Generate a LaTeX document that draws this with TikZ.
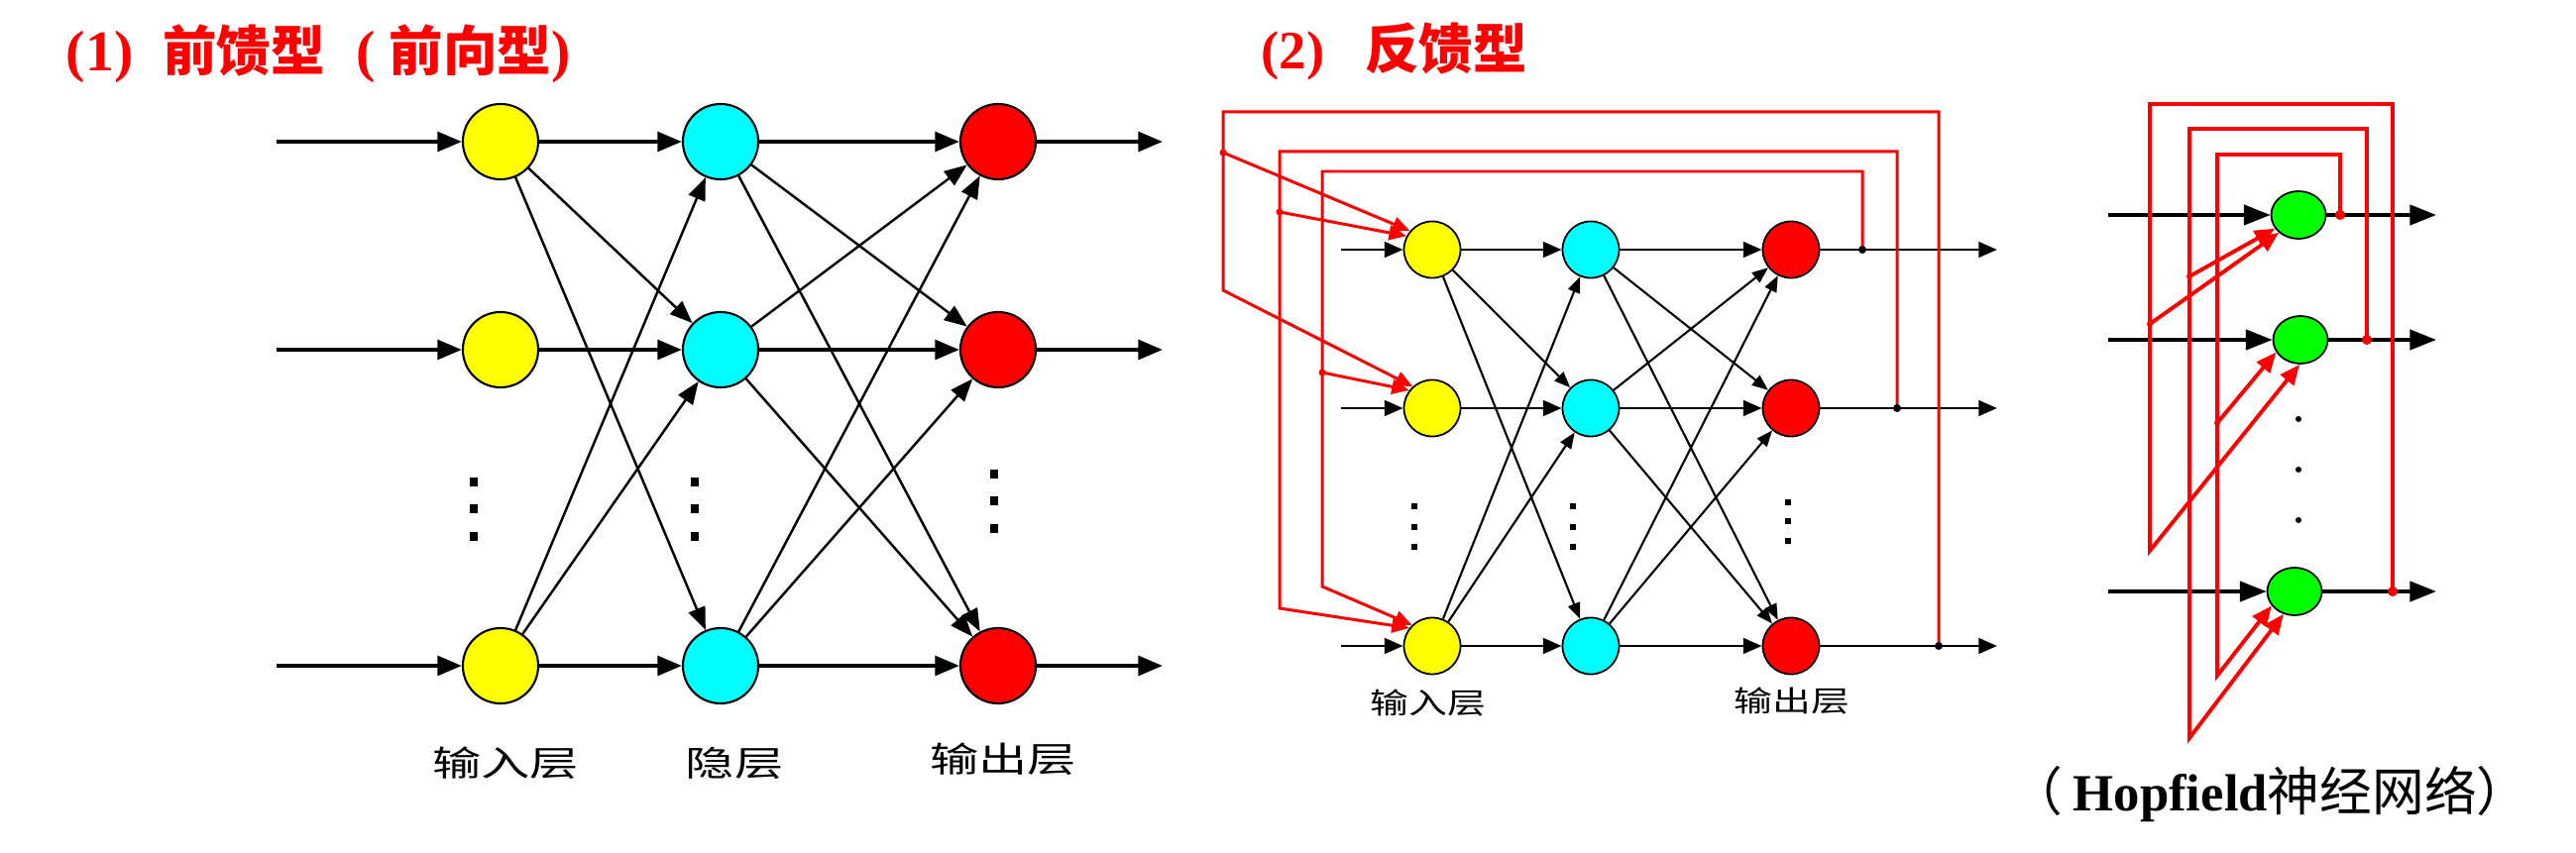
\documentclass[tikz,border=0pt]{standalone}
\usepackage{fontspec}
\usepackage{graphicx}
\usetikzlibrary{arrows.meta,shapes.geometric}
\newfontfamily\cjk{Noto Sans CJK SC}
\newfontfamily\tnr{Liberation Serif}
\definecolor{nodeyellow}{RGB}{255,255,0}
\definecolor{nodecyan}{RGB}{0,255,255}
\definecolor{nodered}{RGB}{255,0,0}
\definecolor{nodegreen}{RGB}{0,255,0}

\begin{document}
\begin{tikzpicture}[x=0.01cm, y=-0.01cm,
		bigcirc/.style={circle, draw, line width=0.6pt, minimum size=0.76cm, inner sep=0pt},
		smallcirc/.style={circle, draw, line width=0.5pt, minimum size=0.57cm, inner sep=0pt},
		hopcirc/.style={ellipse, draw, fill=nodegreen, line width=0.5pt, minimum width=0.55cm, minimum height=0.48cm, inner sep=0pt},
		wireA/.style={-{Triangle[length=7pt,width=5.6pt]}, line width=1.1pt},
		linkA/.style={-{Triangle[length=6.5pt,width=5pt]}, line width=0.7pt},
		wireB/.style={-{Triangle[length=5.3pt,width=4.4pt]}, line width=0.85pt},
		linkB/.style={-{Triangle[length=4.6pt,width=3.6pt]}, line width=0.6pt},
		backB/.style={nodered, line width=0.85pt, -{Triangle[length=5pt,width=4.2pt]}},
		wireC/.style={-{Triangle[length=7.6pt,width=5.8pt]}, line width=0.9pt},
		backC/.style={nodered, line width=1.1pt, -{Triangle[length=5.8pt,width=4.8pt]}},
		headline/.style={anchor=west, text=nodered, inner sep=0pt, font=\fontsize{15.5}{18}\selectfont},
		labA/.style={font=\cjk\fontsize{10}{12}\selectfont, inner sep=0pt},
		labB/.style={font=\cjk\fontsize{8.3}{10}\selectfont, inner sep=0pt}]

	\fill [white] (0,0) rectangle (2599,861);

	\node [headline] (head1) at (66,54) {{\tnr\bfseries\fontsize{16.5}{19}\selectfont (1)}\hspace{0.55em}{\cjk\bfseries 前馈型}\hspace{9pt}{\tnr\bfseries\fontsize{16.5}{19}\selectfont (}\hspace{4pt}{\cjk\bfseries 前向型}{\tnr\bfseries\fontsize{16.5}{19}\selectfont )}};
	\node [headline] (head2) at (1272,52) {{\tnr\bfseries (2)}\hspace{0.75em}{\cjk\bfseries 反馈型}};

	\node [bigcirc, fill=nodeyellow] (in1) at (505,143) {};
	\node [bigcirc, fill=nodeyellow] (in2) at (505,353) {};
	\node [bigcirc, fill=nodeyellow] (in3) at (505,672) {};
	\node [bigcirc, fill=nodecyan] (hid1) at (727,143) {};
	\node [bigcirc, fill=nodecyan] (hid2) at (727,353) {};
	\node [bigcirc, fill=nodecyan] (hid3) at (727,672) {};
	\node [bigcirc, fill=nodered] (out1) at (1007,143) {};
	\node [bigcirc, fill=nodered] (out2) at (1007,353) {};
	\node [bigcirc, fill=nodered] (out3) at (1007,672) {};

	\coordinate (src1) at (279,143);
	\coordinate (src2) at (279,353);
	\coordinate (src3) at (279,672);
	\coordinate (dst1) at (1173,143);
	\coordinate (dst2) at (1173,353);
	\coordinate (dst3) at (1173,672);

	\draw [wireA] (src1) -- (in1);
	\draw [wireA] (src2) -- (in2);
	\draw [wireA] (src3) -- (in3);
	\draw [wireA] (in1) -- (hid1);
	\draw [wireA] (in2) -- (hid2);
	\draw [wireA] (in3) -- (hid3);
	\draw [wireA] (hid1) -- (out1);
	\draw [wireA] (hid2) -- (out2);
	\draw [wireA] (hid3) -- (out3);
	\draw [wireA] (out1) -- (dst1);
	\draw [wireA] (out2) -- (dst2);
	\draw [wireA] (out3) -- (dst3);

	\draw [linkA] (in1) -- (hid2);
	\draw [linkA] (in1) -- (hid3);
	\draw [linkA] (in3) -- (hid1);
	\draw [linkA] (in3) -- (hid2);
	\draw [linkA] (hid1) -- (out2);
	\draw [linkA] (hid1) -- (out3);
	\draw [linkA] (hid2) -- (out1);
	\draw [linkA] (hid2) -- (out3);
	\draw [linkA] (hid3) -- (out1);
	\draw [linkA] (hid3) -- (out2);

	\fill (474,482) rectangle (482,491);
	\fill (474,509) rectangle (482,518);
	\fill (474,537) rectangle (482,546);
	\fill (697,482) rectangle (705,491);
	\fill (697,509) rectangle (705,518);
	\fill (697,537) rectangle (705,546);
	\fill (999,474) rectangle (1007,483);
	\fill (999,501) rectangle (1007,510);
	\fill (999,529) rectangle (1007,538);

	\node [labA] (labin) at (510,770) {\scalebox{1.4}[1]{输入层}};
	\node [labA] (labhid) at (741,770) {\scalebox{1.4}[1]{隐层}};
	\node [labA] (labout) at (1012,766) {\scalebox{1.4}[1]{输出层}};

	\node [smallcirc, fill=nodeyellow] (fin1) at (1445,252) {};
	\node [smallcirc, fill=nodeyellow] (fin2) at (1445,412) {};
	\node [smallcirc, fill=nodeyellow] (fin3) at (1445,652) {};
	\node [smallcirc, fill=nodecyan] (fhid1) at (1605,252) {};
	\node [smallcirc, fill=nodecyan] (fhid2) at (1605,412) {};
	\node [smallcirc, fill=nodecyan] (fhid3) at (1605,652) {};
	\node [smallcirc, fill=nodered] (fout1) at (1807,252) {};
	\node [smallcirc, fill=nodered] (fout2) at (1807,412) {};
	\node [smallcirc, fill=nodered] (fout3) at (1807,652) {};

	\coordinate (fsrc1) at (1353,252);
	\coordinate (fsrc2) at (1353,412);
	\coordinate (fsrc3) at (1353,652);
	\coordinate (fdst1) at (2015,252);
	\coordinate (fdst2) at (2015,412);
	\coordinate (fdst3) at (2015,652);
	\coordinate (fj1) at (1879,252);
	\coordinate (fj2) at (1914,412);
	\coordinate (fj3) at (1956,652);

	\draw [wireB] (fsrc1) -- (fin1);
	\draw [wireB] (fsrc2) -- (fin2);
	\draw [wireB] (fsrc3) -- (fin3);
	\draw [wireB] (fin1) -- (fhid1);
	\draw [wireB] (fin2) -- (fhid2);
	\draw [wireB] (fin3) -- (fhid3);
	\draw [wireB] (fhid1) -- (fout1);
	\draw [wireB] (fhid2) -- (fout2);
	\draw [wireB] (fhid3) -- (fout3);
	\draw [wireB] (fout1) -- (fdst1);
	\draw [wireB] (fout2) -- (fdst2);
	\draw [wireB] (fout3) -- (fdst3);

	\draw [linkB] (fin1) -- (fhid2);
	\draw [linkB] (fin1) -- (fhid3);
	\draw [linkB] (fin3) -- (fhid1);
	\draw [linkB] (fin3) -- (fhid2);
	\draw [linkB] (fhid1) -- (fout2);
	\draw [linkB] (fhid1) -- (fout3);
	\draw [linkB] (fhid2) -- (fout1);
	\draw [linkB] (fhid2) -- (fout3);
	\draw [linkB] (fhid3) -- (fout1);
	\draw [linkB] (fhid3) -- (fout2);

	\coordinate (fk1) at (1234,113);
	\coordinate (fb1) at (1234,154);
	\coordinate (fe1) at (1234,293);
	\coordinate (fk2) at (1291,153);
	\coordinate (fb2) at (1291,214);
	\coordinate (fe2) at (1291,614);
	\coordinate (fk3) at (1334,173);
	\coordinate (fb3) at (1334,376);
	\coordinate (fe3) at (1334,592);

	\draw [backB] (fj3) |- (fk1) -- (fe1) -- (fin2.132);
	\draw [backB] (fb1) -- (fin1.140);
	\draw [backB] (fj2) |- (fk2) -- (fe2) -- (fin3.142);
	\draw [backB] (fb2) -- (fin1.152);
	\draw [backB] (fj1) |- (fk3) -- (fe3) -- (fin3.134);
	\draw [backB] (fb3) -- (fin2.142);

	\fill [nodered] (fb1) circle [radius=3.5];
	\fill [nodered] (fb2) circle [radius=3.5];
	\fill [nodered] (fb3) circle [radius=3.5];
	\fill (fj1) circle [radius=4];
	\fill (fj2) circle [radius=4];
	\fill (fj3) circle [radius=4];

	\fill (1424,508) rectangle (1430,514);
	\fill (1424,529) rectangle (1430,535);
	\fill (1424,549) rectangle (1430,555);
	\fill (1584,508) rectangle (1590,514);
	\fill (1584,529) rectangle (1590,535);
	\fill (1584,549) rectangle (1590,555);
	\fill (1801,504) rectangle (1807,510);
	\fill (1801,523) rectangle (1807,529);
	\fill (1801,543) rectangle (1807,549);

	\node [labB] (flabin) at (1441,709) {\scalebox{1.33}[1]{输入层}};
	\node [labB] (flabout) at (1808,707) {\scalebox{1.33}[1]{输出层}};

	\node [hopcirc] (hop1) at (2319,217) {};
	\node [hopcirc] (hop2) at (2321,343) {};
	\node [hopcirc] (hop3) at (2315,597) {};

	\coordinate (hsrc1) at (2127,217);
	\coordinate (hsrc2) at (2127,343);
	\coordinate (hsrc3) at (2127,597);
	\coordinate (hdst1) at (2458,217);
	\coordinate (hdst2) at (2458,343);
	\coordinate (hdst3) at (2458,597);
	\coordinate (hj1) at (2361,217);
	\coordinate (hj2) at (2388,343);
	\coordinate (hj3) at (2414,597);

	\draw [wireC] (hsrc1) -- (hop1);
	\draw [wireC] (hsrc2) -- (hop2);
	\draw [wireC] (hsrc3) -- (hop3);
	\draw [wireC] (hop1) -- (hdst1);
	\draw [wireC] (hop2) -- (hdst2);
	\draw [wireC] (hop3) -- (hdst3);

	\coordinate (hk1) at (2169,105);
	\coordinate (hb1) at (2169,327);
	\coordinate (he1) at (2169,556);
	\coordinate (hk2) at (2209,130);
	\coordinate (hb2) at (2209,279);
	\coordinate (he2) at (2209,745);
	\coordinate (hk3) at (2237,156);
	\coordinate (hb3) at (2237,427);
	\coordinate (he3) at (2237,682);

	\draw [backC] (hj3) |- (hk1) -- (he1) -- (hop2.268);
	\draw [backC] (hb1) -- (hop1.222);
	\draw [backC] (hj2) |- (hk2) -- (he2) -- (hop3.244);
	\draw [backC] (hb2) -- (hop1.210);
	\draw [backC] (hj1) |- (hk3) -- (he3) -- (hop3.212);
	\draw [backC] (hb3) -- (hop2.207);

	\fill [nodered] (hb1) circle [radius=3];
	\fill [nodered] (hb2) circle [radius=3];
	\fill [nodered] (hb3) circle [radius=3];
	\fill [nodered] (hj1) circle [radius=5];
	\fill [nodered] (hj2) circle [radius=5];
	\fill [nodered] (hj3) circle [radius=5];

	\fill (2319,423) circle [radius=3];
	\fill (2319,474) circle [radius=3];
	\fill (2319,525) circle [radius=3];

	\node [font=\fontsize{15}{18}\selectfont, inner sep=0pt] (hopcap) at (2290,802) {{\cjk （}\hspace{0.2em}{\tnr\bfseries Hopfield}{\cjk 神经网络）}};

\end{tikzpicture}
\end{document}
